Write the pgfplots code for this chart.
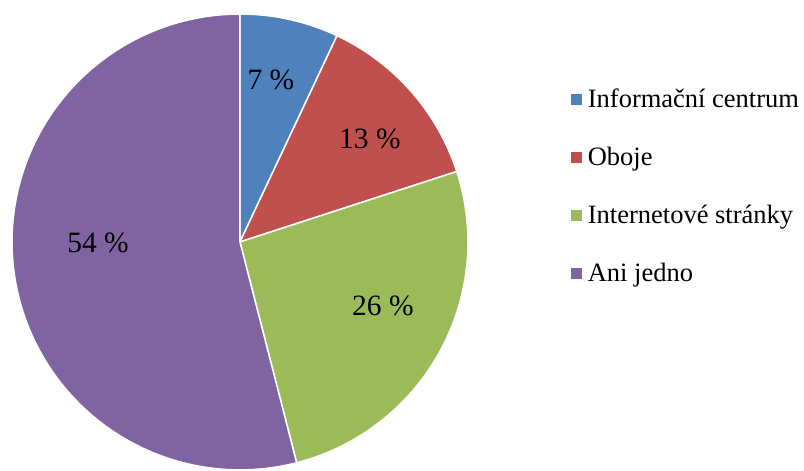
\documentclass[border=0pt]{standalone}
\usepackage{pgfplots}
\pgfplotsset{compat=1.18}
\usepackage{fontspec}
\setmainfont{Liberation Serif}
\definecolor{cblue}{HTML}{4F81BD}
\definecolor{cred}{HTML}{C0504D}
\definecolor{cgreen}{HTML}{9BBB59}
\definecolor{cpurple}{HTML}{8064A2}
\begin{document}
\begin{tikzpicture}
\begin{axis}[
  scale only axis, width=804pt, height=471pt,
  xmin=0, xmax=804, ymin=0, ymax=471,
  hide axis, clip=false,
  legend cell align=left,
  legend style={at={(axis cs:568,386)}, anchor=north west, draw=none, fill=none,
    font=\fontsize{26.5}{30}\selectfont, row sep=34pt},
  legend image code/.code={\path[#1,draw=none] (0pt,-5.5pt) rectangle (11pt,5.5pt);
    \path (14pt,0pt);},
  samples=90, variable=\t,
]
\path (axis cs:0,0) rectangle (axis cs:804,471);
% shares in percent: 7, 13, 26, 54 (clockwise from top)
\addplot[fill=cblue, draw=white, line width=1.5pt, domain={0*3.6}:{7*3.6}]
  ({240+228*sin(t)},{229+228*cos(t)}) -- (axis cs:240,229) -- cycle;
\addlegendentry{Informační centrum}
\addplot[fill=cred, draw=white, line width=1.5pt, domain={7*3.6}:{20*3.6}]
  ({240+228*sin(t)},{229+228*cos(t)}) -- (axis cs:240,229) -- cycle;
\addlegendentry{Oboje}
\addplot[fill=cgreen, draw=white, line width=1.5pt, domain={20*3.6}:{46*3.6}]
  ({240+228*sin(t)},{229+228*cos(t)}) -- (axis cs:240,229) -- cycle;
\addlegendentry{Internetové stránky}
\addplot[fill=cpurple, draw=white, line width=1.5pt, domain={46*3.6}:{100*3.6}]
  ({240+228*sin(t)},{229+228*cos(t)}) -- (axis cs:240,229) -- cycle;
\addlegendentry{Ani jedno}
\node[font=\fontsize{29.5}{32}\selectfont] at (axis cs:271,391) {7 \%};
\node[font=\fontsize{29.5}{32}\selectfont] at (axis cs:370,332) {13 \%};
\node[font=\fontsize{29.5}{32}\selectfont] at (axis cs:383,165) {26 \%};
\node[font=\fontsize{29.5}{32}\selectfont] at (axis cs:98,228) {54 \%};
\end{axis}
\end{tikzpicture}
\end{document}
